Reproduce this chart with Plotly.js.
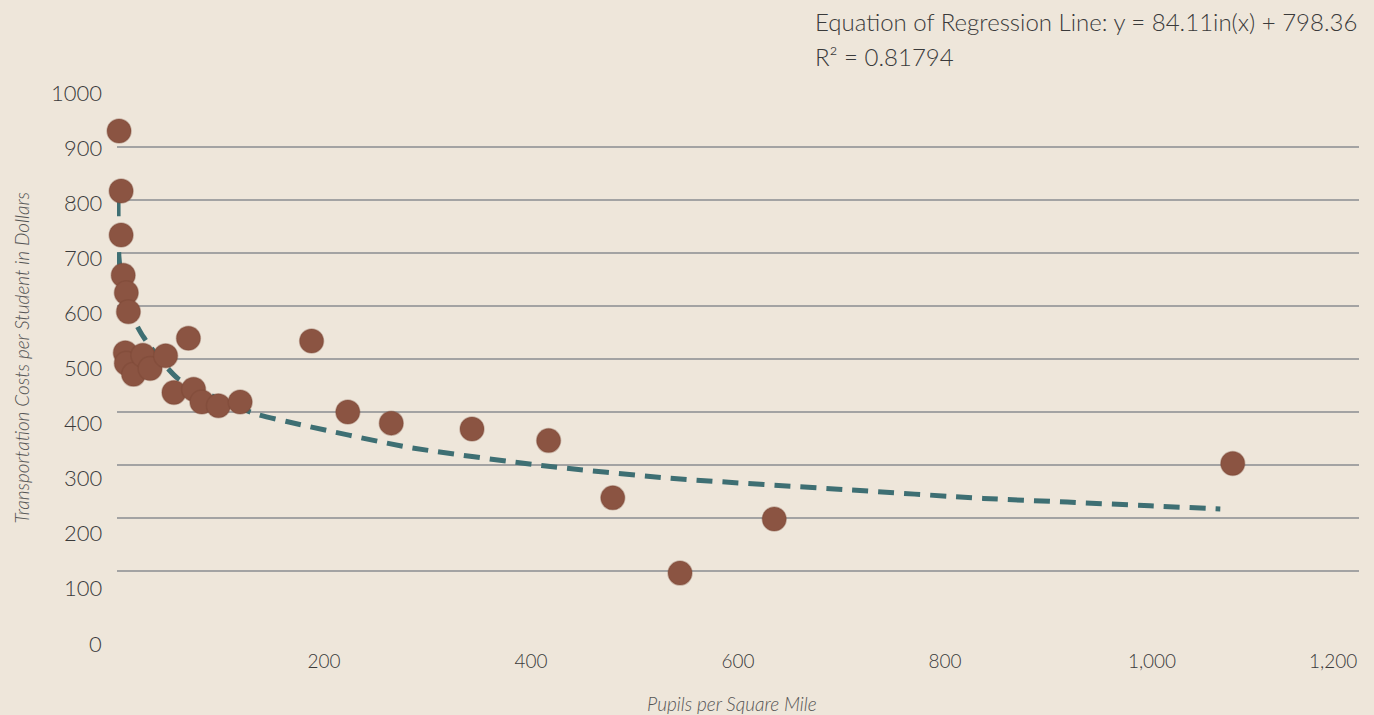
<!DOCTYPE html>
<html>
<head>
<meta charset="utf-8">
<script src="https://cdn.plot.ly/plotly-3.0.1.min.js"></script>
<style>
  html, body { margin: 0; padding: 0; background: #EEE6DA; }
  #chart { width: 1374px; height: 715px; }
</style>
</head>
<body>
<div id="chart"></div>
<script>
// Scatter data: pupils per square mile vs transportation cost per student ($)
const pupilsPerSqMile = [2, 4, 4, 6, 9, 11, 69, 8, 9, 16, 25, 32, 47, 55, 74, 82, 98, 119, 188, 223, 265, 343, 417, 479, 544, 635, 1078];
const costPerStudent  = [930, 817, 734, 658, 625, 589, 539, 512, 492, 471, 507, 482, 506, 437, 443, 419, 412, 419, 534, 400, 379, 368, 346, 238, 96, 198, 303];

// Regression (trend) line
const trendX = [1, 1.9, 7.7, 25.4, 59, 133, 164, 280, 410, 535, 708, 837, 918, 998, 1066];
const trendY = [800, 692, 611, 542, 463, 397, 382, 334, 299, 275, 253, 237, 230, 223, 217];

// Tick labels
const xTickVals = [200, 400, 600, 800, 1000, 1200];
const xTickText = ['200', '400', '600', '800', '1,000', '1,200'];
const yTickVals = [0, 100, 200, 300, 400, 500, 600, 700, 800, 900, 1000];
const yTickText = ['0', '100', '200', '300', '400', '500', '600', '700', '800', '900', '1000'];

const equationText = 'Equation of Regression Line: y = 84.11in(x) + 798.36';
const r2Text = 'R² = 0.81794';
const xTitle = 'Pupils per Square Mile';
const yTitle = 'Transportation Costs per Student in Dollars';

const bg = '#EEE6DA';
const txt = '#3A3A3A';
const FONT = 'Lato, "Open Sans", "DejaVu Sans", sans-serif';

const traces = [
  {
    x: trendX, y: trendY, type: 'scatter', mode: 'lines',
    line: { color: '#3E6F73', width: 5, dash: '16px,10px', shape: 'spline', smoothing: 0.6 },
    hoverinfo: 'skip', showlegend: false
  },
  {
    x: pupilsPerSqMile, y: costPerStudent, type: 'scatter', mode: 'markers',
    marker: { color: '#8B5442', size: 24, line: { color: 'rgba(120,70,52,0.35)', width: 1.5 } },
    showlegend: false, cliponaxis: false
  },
  {
    // empty helper trace so the tick-label scale (yaxis2) exists
    x: [], y: [], type: 'scatter', mode: 'markers', xaxis: 'x', yaxis: 'y2',
    hoverinfo: 'skip', showlegend: false
  }
];

const annotations = [];
// Y tick labels, placed on their own label scale (it drifts slightly from the gridlines, as in the reference)
yTickVals.forEach((v, i) => {
  annotations.push({
    xref: 'paper', yref: 'y2', x: 0, y: v, xanchor: 'right', yanchor: 'middle',
    xshift: -13, text: yTickText[i], showarrow: false,
    font: { family: FONT, size: 22, color: txt, weight: 300 }
  });
});
// Last x tick label is right-aligned to the plot edge, as in the reference
const lastX = xTickVals.length - 1;
annotations.push({
  xref: 'x', yref: 'paper', x: xTickVals[lastX], y: -0.0095, xanchor: 'right', yanchor: 'middle',
  text: xTickText[lastX], showarrow: false,
  font: { family: FONT, size: 19, color: txt, weight: 300 }
});
annotations.push({
  xref: 'paper', yref: 'paper', x: -0.0765, y: 0.5174, xanchor: 'center', yanchor: 'middle',
  textangle: -90, text: '<i>' + yTitle + '</i>', showarrow: false,
  font: { family: FONT, size: 19, color: '#555555', weight: 300 }
});
annotations.push({
  xref: 'paper', yref: 'paper', x: 0.495, y: -0.0835, xanchor: 'center', yanchor: 'middle',
  text: '<i>' + xTitle + '</i>', showarrow: false,
  font: { family: FONT, size: 19, color: '#555555', weight: 300 }
});
annotations.push({
  xref: 'paper', yref: 'paper', x: 0.5604, y: 1.1009, xanchor: 'left', yanchor: 'middle',
  text: equationText, showarrow: false,
  font: { family: FONT, size: 24, color: txt, weight: 300 }
});
annotations.push({
  xref: 'paper', yref: 'paper', x: 0.5604, y: 1.0417, xanchor: 'left', yanchor: 'middle',
  text: r2Text, showarrow: false,
  font: { family: FONT, size: 24, color: txt, weight: 300 }
});

const layout = {
  width: 1374, height: 715,
  paper_bgcolor: bg, plot_bgcolor: 'rgba(0,0,0,0)',
  margin: { l: 117, r: 15, t: 80, b: 60 },
  showlegend: false,
  font: { family: FONT, color: txt },
  xaxis: {
    range: [0, 1200], tickvals: xTickVals.slice(0, lastX), ticktext: xTickText.slice(0, lastX), anchor: 'y',
    showgrid: false, zeroline: false, showline: false, ticks: '',
    ticklabelstandoff: 24,
    tickfont: { family: FONT, size: 19, color: txt, weight: 300 },
    fixedrange: true
  },
  yaxis: {
    domain: [0.05391, 0.97565],
    range: [0, 1000], tickvals: yTickVals, showticklabels: false,
    showgrid: true, gridcolor: '#A3A3A3', gridwidth: 1.5,
    zeroline: false, showline: false, ticks: '', fixedrange: true
  },
  yaxis2: {
    domain: [0, 1], anchor: 'x',
    range: [-21.78, 1021.78], visible: false,
    showgrid: false, zeroline: false, fixedrange: true
  },
  annotations: annotations
};

Plotly.newPlot('chart', traces, layout, { displayModeBar: false, staticPlot: true });
</script>
</body>
</html>
